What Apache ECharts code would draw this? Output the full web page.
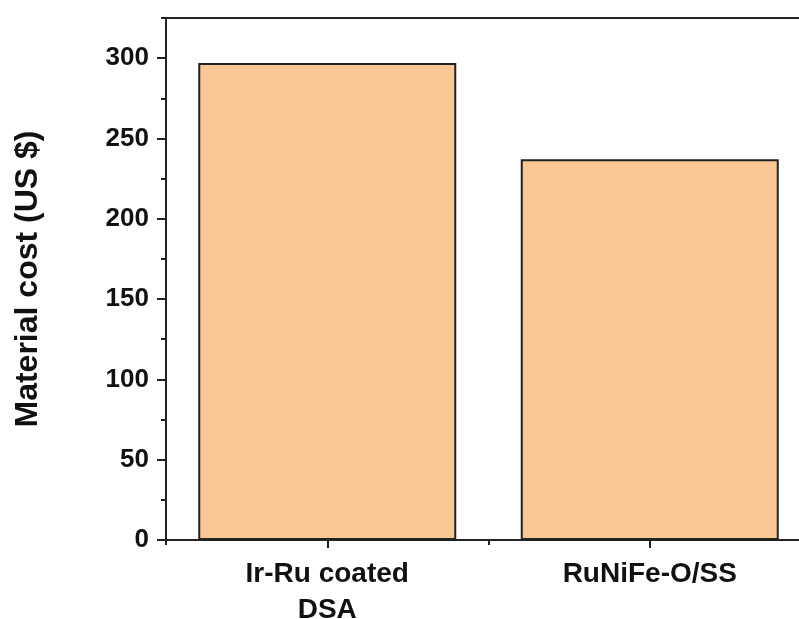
<!DOCTYPE html>
<html>
<head>
<meta charset="utf-8">
<script src="https://cdn.jsdelivr.net/npm/echarts@6/dist/echarts.min.js"></script>
<style>html,body{margin:0;padding:0;background:#fff;overflow:hidden;}#c{width:799px;height:619px;}</style>
</head>
<body>
<div id="c"></div>
<script>
const categories = ['Ir-Ru coated\nDSA', 'RuNiFe-O/SS'];
const costs = [297, 237];
const yMajorTicks = [0, 50, 100, 150, 200, 250, 300];
const yMinorTicks = [25, 75, 125, 175, 225, 275, 325];
const xMajorTicks = [1, 2];
const xMinorTicks = [0.5, 1.5, 2.5];
const yTitle = 'Material cost (US $)';

const font = 'Liberation Sans, Arial, sans-serif';
const tickStyle = { color: '#222', width: 2 };
const chart = echarts.init(document.getElementById('c'));
chart.setOption({
  animation: false,
  backgroundColor: '#fff',
  grid: { left: 166, top: 18, width: 645, height: 522, outerBoundsMode: 'none', containLabel: false, show: true, borderColor: '#222', borderWidth: 2, backgroundColor: 'transparent' },
  xAxis: [
    {
      type: 'category', data: categories, position: 'bottom',
      axisLine: { onZero: false, lineStyle: { color: '#222', width: 2 } },
      axisTick: { show: false },
      axisLabel: { color: '#111', fontFamily: font, fontWeight: 'bold', fontSize: 28, lineHeight: 36, margin: 16 }
    },
    {
      type: 'value', min: 0.5, max: 2.5, position: 'bottom', offset: 0, show: true,
      axisLine: { show: false, onZero: false },
      axisTick: { show: true, length: 5, customValues: xMinorTicks, lineStyle: tickStyle },
      axisLabel: { show: false },
      splitLine: { show: false }
    },
    {
      type: 'value', min: 0.5, max: 2.5, position: 'bottom', offset: 0, show: true,
      axisLine: { show: false, onZero: false },
      axisTick: { show: true, length: 8, customValues: xMajorTicks, lineStyle: tickStyle },
      axisLabel: { show: false },
      splitLine: { show: false }
    }
  ],
  yAxis: [
    {
      type: 'value', min: 0, max: 325, position: 'left',
      name: yTitle, nameLocation: 'middle', nameGap: 122,
      nameTextStyle: { color: '#111', fontFamily: font, fontWeight: 'bold', fontSize: 32 },
      axisLine: { show: true, onZero: false, lineStyle: { color: '#222', width: 2 } },
      axisTick: { show: true, length: 9, customValues: yMajorTicks, lineStyle: tickStyle },
      axisLabel: { customValues: yMajorTicks, color: '#111', fontFamily: font, fontWeight: 'bold', fontSize: 26, margin: 17 },
      splitLine: { show: false }
    },
    {
      type: 'value', min: 0, max: 325, position: 'left', offset: 0,
      axisLine: { show: false, onZero: false },
      axisTick: { show: true, length: 5, customValues: yMinorTicks, lineStyle: tickStyle },
      axisLabel: { show: false },
      splitLine: { show: false }
    }
  ],
  series: [{
    type: 'bar', xAxisIndex: 0, yAxisIndex: 0, data: costs, barWidth: '80%',
    itemStyle: { color: '#FAC795', borderColor: '#222', borderWidth: 2 }
  }]
});
</script>
</body>
</html>
